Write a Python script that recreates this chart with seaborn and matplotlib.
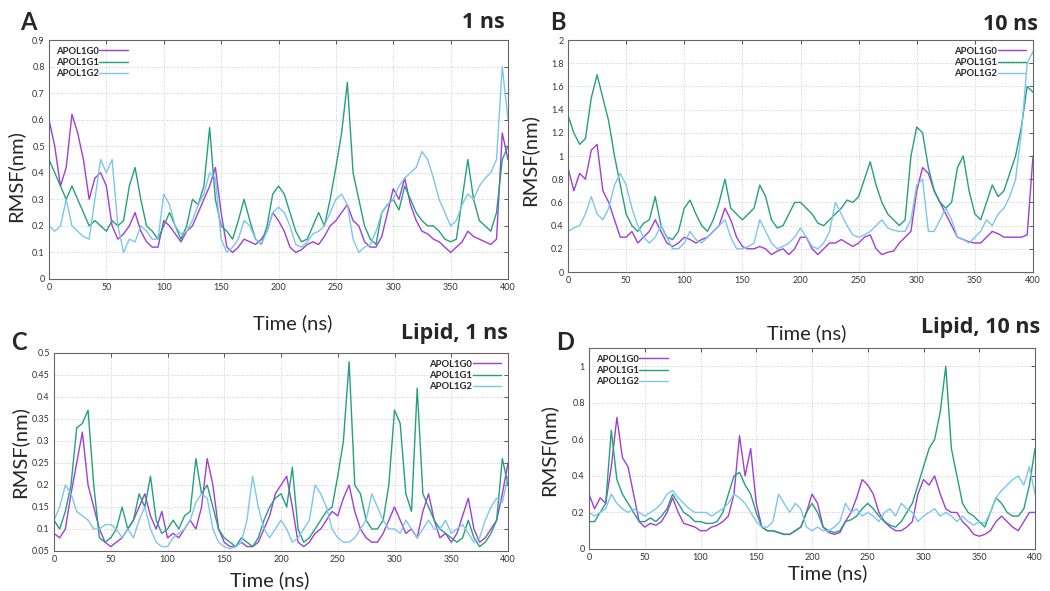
import numpy as np
import pandas as pd
import matplotlib
matplotlib.use("Agg")
import matplotlib.pyplot as plt
import seaborn as sns

# RMSF of the three APOL1 variants, every 5 ns
time_ns = np.arange(0, 401, 5)
variants = ["APOL1G0", "APOL1G1", "APOL1G2"]
colors = ["#a03ed8", "#25a07c", "#7cc6ec"]

# A: 1 ns
a_g0 = [0.60, 0.50, 0.35, 0.42, 0.62, 0.55, 0.45, 0.30, 0.38, 0.40,
        0.35, 0.20, 0.15, 0.17, 0.20, 0.25, 0.18, 0.14, 0.12, 0.12,
        0.22, 0.20, 0.17, 0.14, 0.18, 0.20, 0.25, 0.30, 0.35, 0.42,
        0.25, 0.12, 0.10, 0.12, 0.15, 0.14, 0.13, 0.15, 0.18, 0.25,
        0.22, 0.18, 0.12, 0.10, 0.11, 0.13, 0.14, 0.13, 0.16, 0.20,
        0.22, 0.25, 0.28, 0.22, 0.20, 0.14, 0.12, 0.12, 0.16, 0.25,
        0.34, 0.30, 0.38, 0.28, 0.22, 0.18, 0.17, 0.15, 0.14, 0.12,
        0.10, 0.12, 0.14, 0.18, 0.16, 0.15, 0.14, 0.13, 0.15, 0.55,
        0.45]
a_g1 = [0.45, 0.40, 0.35, 0.30, 0.35, 0.30, 0.25, 0.20, 0.22, 0.20,
        0.18, 0.22, 0.20, 0.22, 0.35, 0.42, 0.30, 0.20, 0.18, 0.15,
        0.20, 0.25, 0.20, 0.15, 0.20, 0.30, 0.28, 0.35, 0.57, 0.30,
        0.20, 0.18, 0.15, 0.22, 0.30, 0.22, 0.15, 0.13, 0.20, 0.32,
        0.35, 0.32, 0.25, 0.18, 0.14, 0.15, 0.20, 0.25, 0.20, 0.30,
        0.42, 0.55, 0.74, 0.40, 0.30, 0.20, 0.15, 0.13, 0.25, 0.28,
        0.30, 0.26, 0.35, 0.30, 0.25, 0.22, 0.20, 0.20, 0.18, 0.15,
        0.14, 0.15, 0.30, 0.45, 0.30, 0.22, 0.20, 0.18, 0.25, 0.45,
        0.50]
a_g2 = [0.20, 0.18, 0.20, 0.30, 0.20, 0.18, 0.16, 0.15, 0.30, 0.45,
        0.40, 0.45, 0.20, 0.10, 0.15, 0.14, 0.20, 0.18, 0.15, 0.15,
        0.32, 0.28, 0.20, 0.17, 0.18, 0.22, 0.28, 0.32, 0.40, 0.38,
        0.15, 0.10, 0.12, 0.15, 0.22, 0.20, 0.15, 0.13, 0.18, 0.25,
        0.27, 0.25, 0.20, 0.13, 0.12, 0.14, 0.17, 0.18, 0.20, 0.25,
        0.30, 0.32, 0.28, 0.15, 0.10, 0.12, 0.13, 0.18, 0.25, 0.28,
        0.30, 0.35, 0.38, 0.40, 0.42, 0.48, 0.45, 0.38, 0.30, 0.25,
        0.20, 0.22, 0.28, 0.32, 0.30, 0.35, 0.38, 0.40, 0.45, 0.80,
        0.60]

# B: 10 ns
b_g0 = [0.90, 0.70, 0.85, 0.80, 1.05, 1.10, 0.70, 0.60, 0.45, 0.30,
        0.30, 0.35, 0.25, 0.30, 0.35, 0.45, 0.35, 0.25, 0.22, 0.25,
        0.30, 0.28, 0.25, 0.28, 0.30, 0.35, 0.40, 0.55, 0.45, 0.30,
        0.22, 0.20, 0.20, 0.22, 0.20, 0.15, 0.18, 0.20, 0.15, 0.20,
        0.30, 0.30, 0.20, 0.15, 0.20, 0.25, 0.25, 0.28, 0.25, 0.22,
        0.25, 0.30, 0.32, 0.20, 0.15, 0.17, 0.18, 0.25, 0.30, 0.35,
        0.70, 0.90, 0.85, 0.70, 0.60, 0.50, 0.40, 0.30, 0.28, 0.26,
        0.25, 0.25, 0.30, 0.35, 0.33, 0.30, 0.30, 0.30, 0.30, 0.32,
        1.00]
b_g1 = [1.35, 1.20, 1.10, 1.15, 1.50, 1.70, 1.50, 1.30, 1.00, 0.75,
        0.50, 0.40, 0.35, 0.42, 0.45, 0.65, 0.40, 0.30, 0.28, 0.35,
        0.55, 0.62, 0.50, 0.40, 0.35, 0.45, 0.60, 0.80, 0.55, 0.50,
        0.45, 0.50, 0.55, 0.75, 0.65, 0.45, 0.38, 0.40, 0.50, 0.60,
        0.60, 0.55, 0.50, 0.42, 0.40, 0.45, 0.50, 0.55, 0.62, 0.60,
        0.65, 0.80, 0.95, 0.75, 0.60, 0.50, 0.45, 0.40, 0.45, 1.00,
        1.25, 1.20, 0.90, 0.70, 0.60, 0.55, 0.60, 0.90, 1.00, 0.70,
        0.50, 0.45, 0.60, 0.75, 0.65, 0.70, 0.85, 1.00, 1.25, 1.60,
        1.55]
b_g2 = [0.35, 0.38, 0.40, 0.50, 0.65, 0.50, 0.45, 0.55, 0.75, 0.85,
        0.75, 0.55, 0.40, 0.30, 0.25, 0.30, 0.40, 0.30, 0.20, 0.20,
        0.25, 0.35, 0.28, 0.25, 0.30, 0.35, 0.40, 0.45, 0.30, 0.20,
        0.20, 0.22, 0.25, 0.45, 0.35, 0.25, 0.20, 0.22, 0.25, 0.30,
        0.38, 0.30, 0.22, 0.20, 0.25, 0.35, 0.60, 0.50, 0.40, 0.32,
        0.30, 0.32, 0.35, 0.40, 0.45, 0.38, 0.36, 0.35, 0.35, 0.45,
        0.75, 0.80, 0.35, 0.35, 0.45, 0.55, 0.45, 0.30, 0.28, 0.25,
        0.30, 0.35, 0.45, 0.40, 0.50, 0.55, 0.65, 0.80, 1.20, 1.80,
        1.90]

# C: Lipid, 1 ns
c_g0 = [0.09, 0.08, 0.10, 0.18, 0.25, 0.32, 0.20, 0.15, 0.10, 0.07,
        0.06, 0.07, 0.08, 0.10, 0.12, 0.15, 0.18, 0.13, 0.10, 0.14,
        0.08, 0.09, 0.08, 0.10, 0.12, 0.10, 0.15, 0.26, 0.20, 0.10,
        0.07, 0.06, 0.06, 0.07, 0.06, 0.06, 0.07, 0.10, 0.13, 0.18,
        0.20, 0.22, 0.15, 0.07, 0.06, 0.07, 0.09, 0.10, 0.12, 0.14,
        0.13, 0.17, 0.20, 0.14, 0.10, 0.08, 0.07, 0.07, 0.09, 0.12,
        0.15, 0.12, 0.09, 0.10, 0.08, 0.14, 0.18, 0.12, 0.08, 0.09,
        0.07, 0.09, 0.13, 0.17, 0.10, 0.07, 0.08, 0.10, 0.12, 0.18,
        0.25]
c_g1 = [0.12, 0.10, 0.14, 0.20, 0.33, 0.34, 0.37, 0.20, 0.08, 0.07,
        0.08, 0.10, 0.15, 0.10, 0.12, 0.18, 0.15, 0.22, 0.12, 0.09,
        0.10, 0.12, 0.10, 0.13, 0.14, 0.26, 0.18, 0.20, 0.15, 0.10,
        0.08, 0.07, 0.06, 0.08, 0.07, 0.06, 0.08, 0.12, 0.15, 0.17,
        0.18, 0.15, 0.24, 0.10, 0.07, 0.08, 0.10, 0.12, 0.14, 0.15,
        0.22, 0.30, 0.48, 0.20, 0.18, 0.12, 0.10, 0.10, 0.12, 0.20,
        0.37, 0.34, 0.18, 0.14, 0.42, 0.18, 0.15, 0.12, 0.10, 0.09,
        0.08, 0.07, 0.08, 0.12, 0.08, 0.06, 0.07, 0.09, 0.12, 0.26,
        0.20]
c_g2 = [0.12, 0.15, 0.20, 0.18, 0.14, 0.13, 0.12, 0.10, 0.10, 0.11,
        0.11, 0.10, 0.08, 0.10, 0.08, 0.12, 0.15, 0.10, 0.07, 0.06,
        0.06, 0.08, 0.09, 0.10, 0.12, 0.16, 0.18, 0.17, 0.10, 0.07,
        0.06, 0.055, 0.06, 0.07, 0.12, 0.22, 0.15, 0.10, 0.08, 0.10,
        0.12, 0.10, 0.07, 0.08, 0.10, 0.12, 0.20, 0.18, 0.15, 0.10,
        0.08, 0.07, 0.07, 0.08, 0.10, 0.12, 0.18, 0.15, 0.12, 0.10,
        0.10, 0.09, 0.12, 0.10, 0.08, 0.10, 0.12, 0.10, 0.10, 0.12,
        0.09, 0.10, 0.11, 0.09, 0.07, 0.08, 0.12, 0.15, 0.17, 0.16,
        0.22]

# D: Lipid, 10 ns
d_g0 = [0.30, 0.22, 0.28, 0.25, 0.45, 0.72, 0.50, 0.45, 0.30, 0.15,
        0.12, 0.14, 0.13, 0.15, 0.20, 0.28, 0.20, 0.14, 0.13, 0.12,
        0.10, 0.10, 0.12, 0.13, 0.15, 0.18, 0.30, 0.62, 0.40, 0.55,
        0.25, 0.12, 0.10, 0.10, 0.09, 0.08, 0.08, 0.10, 0.12, 0.20,
        0.30, 0.25, 0.12, 0.09, 0.08, 0.09, 0.15, 0.20, 0.28, 0.38,
        0.35, 0.30, 0.20, 0.15, 0.12, 0.10, 0.10, 0.12, 0.15, 0.30,
        0.38, 0.35, 0.40, 0.30, 0.22, 0.20, 0.20, 0.15, 0.12, 0.08,
        0.07, 0.08, 0.10, 0.15, 0.18, 0.15, 0.12, 0.10, 0.15, 0.20,
        0.20]
d_g1 = [0.15, 0.15, 0.20, 0.25, 0.65, 0.38, 0.30, 0.25, 0.20, 0.15,
        0.15, 0.17, 0.15, 0.18, 0.22, 0.30, 0.25, 0.20, 0.18, 0.15,
        0.15, 0.14, 0.14, 0.15, 0.20, 0.30, 0.40, 0.42, 0.35, 0.30,
        0.20, 0.12, 0.10, 0.10, 0.09, 0.08, 0.08, 0.10, 0.12, 0.20,
        0.25, 0.20, 0.12, 0.10, 0.09, 0.10, 0.15, 0.16, 0.18, 0.22,
        0.25, 0.22, 0.18, 0.15, 0.13, 0.12, 0.15, 0.20, 0.25, 0.35,
        0.45, 0.55, 0.60, 0.75, 1.00, 0.55, 0.40, 0.25, 0.20, 0.18,
        0.15, 0.12, 0.20, 0.28, 0.25, 0.20, 0.18, 0.18, 0.22, 0.35,
        0.55]
d_g2 = [0.20, 0.18, 0.20, 0.22, 0.30, 0.25, 0.22, 0.20, 0.22, 0.20,
        0.18, 0.20, 0.22, 0.25, 0.30, 0.32, 0.28, 0.25, 0.22, 0.20,
        0.20, 0.20, 0.18, 0.20, 0.22, 0.25, 0.30, 0.28, 0.25, 0.20,
        0.15, 0.12, 0.12, 0.15, 0.30, 0.25, 0.20, 0.25, 0.22, 0.12,
        0.10, 0.12, 0.10, 0.10, 0.12, 0.15, 0.25, 0.20, 0.22, 0.18,
        0.20, 0.18, 0.15, 0.20, 0.22, 0.18, 0.25, 0.22, 0.20, 0.15,
        0.18, 0.20, 0.22, 0.18, 0.20, 0.18, 0.15, 0.18, 0.15, 0.13,
        0.15, 0.14, 0.20, 0.28, 0.32, 0.35, 0.38, 0.40, 0.35, 0.45,
        0.30]

sns.set_style("white")
plt.rcParams["font.family"] = ["Lato", "DejaVu Sans"]

fig = plt.figure(figsize=(10.5, 5.91), dpi=100)
W, H = 1050, 591


def px_axes(left, top, right, bottom):
    return fig.add_axes([left / W, 1 - bottom / H, (right - left) / W, (bottom - top) / H])


def to_long(series):
    frames = []
    for name, vals in zip(variants, series):
        frames.append(pd.DataFrame({"time": time_ns, "rmsf": vals, "variant": name}))
    return pd.concat(frames, ignore_index=True)


panels = [
    # series, box, ylim, yticks, legend loc, letter pos, title, title pos, ylabel pos, xlabel pos
    ([a_g0, a_g1, a_g2], (49, 40, 508, 279), (0, 0.9), np.arange(0, 0.91, 0.1), "upper left",
     "A", (28, 23), "1 ns", (505, 22), (15, 176), (293, 323)),
    ([b_g0, b_g1, b_g2], (568, 40, 1033, 272), (0, 2), np.arange(0, 2.01, 0.2), "upper right",
     "B", (558, 23), "10 ns", (1038, 25), (529, 160), (807, 333)),
    ([c_g0, c_g1, c_g2], (54, 353, 508, 551), (0.05, 0.5), np.arange(0.05, 0.501, 0.05), "upper right",
     "C", (19, 343), "Lipid, 1 ns", (508, 333), (19, 452), (270, 580)),
    ([d_g0, d_g1, d_g2], (589, 348, 1035, 549), (0, 1.1), np.arange(0, 1.01, 0.2), "upper left",
     "D", (565, 342), "Lipid, 10 ns", (1040, 328), (548, 450), (828, 573)),
]

for series, box, ylim, yticks, loc, letter, lpos, title, tpos, ypos, xpos in panels:
    ax = px_axes(*box)
    df = to_long(series)
    sns.lineplot(data=df, x="time", y="rmsf", hue="variant", palette=colors,
                 linewidth=1.0, ax=ax)
    ax.set_xlim(0, 400)
    ax.set_ylim(*ylim)
    ax.set_xticks(np.arange(0, 401, 50))
    ax.set_yticks(yticks)
    ax.set_yticklabels([f"{v:g}" for v in np.round(yticks, 2)])
    ax.set_xlabel("")
    ax.set_ylabel("")
    ax.grid(True, linestyle=(0, (1, 2)), color="#bdbdbd", linewidth=0.6)
    ax.tick_params(direction="in", top=True, right=True, length=3, width=0.7,
                   labelsize=6.5, labelcolor="#333333", color="#555555", pad=3)
    for s in ax.spines.values():
        s.set_color("#666666")
        s.set_linewidth(0.8)
    handles, labels = ax.get_legend_handles_labels()
    ax.legend(handles, labels, loc=loc, frameon=False, markerfirst=False,
              handlelength=3.0, handletextpad=0.1, labelspacing=0.25,
              borderaxespad=0.3, prop={"weight": "bold", "size": 6.8})

    fig.text(lpos[0] / W, 1 - lpos[1] / H, letter, fontsize=17, fontweight="bold",
             ha="center", va="center")
    fig.text(tpos[0] / W, 1 - tpos[1] / H, title, fontsize=15.5, fontweight="bold",
             family=["Open Sans", "DejaVu Sans"], ha="right", va="center")
    fig.text(ypos[0] / W, 1 - ypos[1] / H, "RMSF(nm)", fontsize=14.5, rotation=90,
             ha="center", va="center")
    fig.text(xpos[0] / W, 1 - xpos[1] / H, "Time (ns)", fontsize=14.5,
             ha="center", va="center")

fig.savefig("out.png", dpi=100)
